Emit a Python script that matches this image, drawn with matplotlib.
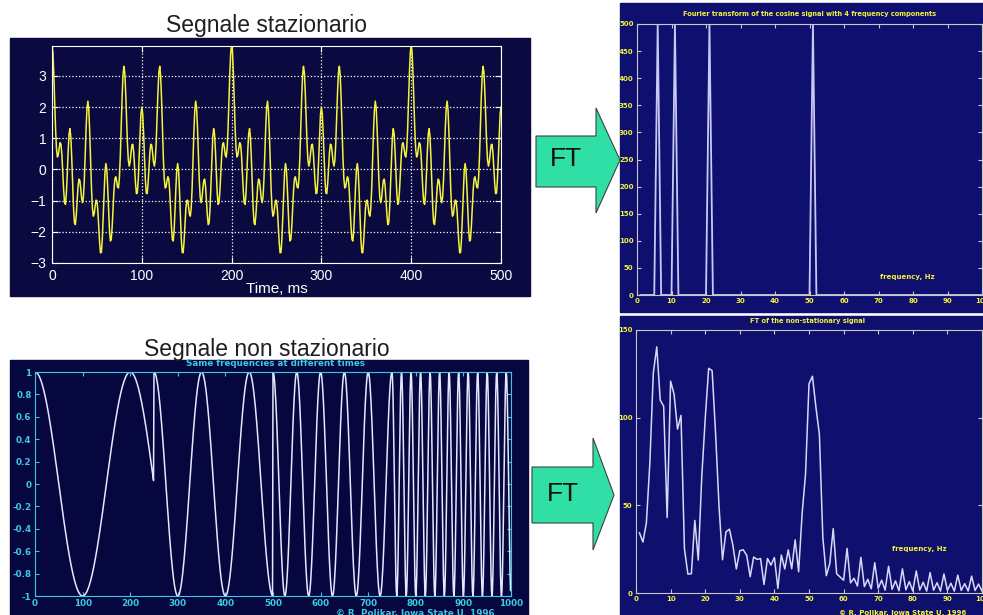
import numpy as np
import matplotlib.pyplot as plt
from matplotlib.patches import Rectangle, Polygon
from matplotlib.transforms import Bbox, TransformedBbox

W, H = 983, 615

# signal parameters
time_freqs = [10, 25, 50, 100]   # Hz, components of the stationary time signal
ft_freqs = [5, 10, 20, 50]       # Hz, components in both spectra / non-stationary signal
seg_len = 250                    # ms per component in the non-stationary signal
n_samples = 1000                 # 1 s at 1 kHz
fs = 1000

t = np.arange(n_samples)
stat = sum(np.cos(2 * np.pi * f * t / fs) for f in time_freqs)
stat_ft = sum(np.cos(2 * np.pi * f * t / fs) for f in ft_freqs)
nonstat = np.concatenate([np.cos(2 * np.pi * f * np.arange(seg_len) / fs) for f in ft_freqs])
spec_stat = np.abs(np.fft.fft(stat_ft))
spec_non = np.abs(np.fft.fft(nonstat))
k = np.arange(1, n_samples + 1)   # matlab style index

tl_xticks = [0, 100, 200, 300, 400, 500]
tl_yticks = [-3, -2, -1, 0, 1, 2, 3]
tr_yticks = list(range(0, 501, 50))
f_ticks = list(range(0, 101, 10))
bl_xticks = list(range(0, 1001, 100))
bl_yticks = [-1, -0.8, -0.6, -0.4, -0.2, 0, 0.2, 0.4, 0.6, 0.8, 1]
bl_ylabels = ['-1', '-0.8', '-0.6', '-0.4', '-0.2', '0', '0.2', '0.4', '0.6', '0.8', '1']
br_yticks = [0, 50, 100, 150]

YEL = '#f4f43a'
CYAN = '#3cc8e0'


def frac(x0, y0, x1, y1):
    return [x0 / W, 1 - y1 / H, (x1 - x0) / W, (y1 - y0) / H]


def clipbox(x0, y0, x1, y1):
    return TransformedBbox(Bbox.from_extents(x0 / W, 1 - y1 / H, x1 / W, 1 - y0 / H), fig.transFigure)


fig = plt.figure(figsize=(W / 100, H / 100), dpi=100, facecolor='white')
bg = fig.add_axes([0, 0, 1, 1])
bg.set_xlim(0, W)
bg.set_ylim(H, 0)
bg.axis('off')

# panel backgrounds
bg.add_patch(Rectangle((10, 38), 520, 258, color='#0a0a40'))
bg.add_patch(Rectangle((620, 3), 363, 309, color='#0f0f70'))
bg.add_patch(Rectangle((10, 360), 518, 255, color='#070740'))
bg.add_patch(Rectangle((620, 316), 363, 299, color='#0f0f6e'))

# arrows
for (bx0, by0, bx1, by1, hy0, hy1, tip, ty, lx, ly) in [
        (536, 136, 596, 187, 108, 213, 620, 160, 566, 159),
        (532, 467, 593, 523, 438, 550, 614, 495, 563, 494)]:
    pts = [(bx0, by0), (bx1, by0), (bx1, hy0), (tip, ty), (bx1, hy1), (bx1, by1), (bx0, by1)]
    bg.add_patch(Polygon(pts, closed=True, facecolor='#2fdfa6', edgecolor='#404040', lw=0.8))
    bg.text(lx, ly, 'FT', ha='center', va='center', fontsize=19, family='Liberation Sans', color='#111111')

# titles
bg.text(267, 32, 'Segnale stazionario', ha='center', va='baseline', fontsize=16.5,
        family='Liberation Sans', color='#1e1e1e')
bg.text(267, 356, 'Segnale non stazionario', ha='center', va='baseline', fontsize=16.5,
        family='Liberation Sans', color='#1e1e1e')
bg.text(277, 289, 'Time, ms', ha='center', va='center', fontsize=11,
        family='Liberation Sans', color='white')
bg.text(810, 14, 'Fourier transform of the cosine signal with 4 frequency components',
        ha='center', va='center', fontsize=4.8, fontweight='bold', color=YEL)
bg.text(807, 321, 'FT of the non-stationary signal', ha='center', va='center',
        fontsize=4.8, fontweight='bold', color=YEL)
bg.text(275, 364, 'Same frequencies at different times', ha='center', va='center',
        fontsize=6.3, fontweight='bold', color=CYAN)
bg.text(415, 609, '\u00a9 R. Polikar, Iowa State U. 1996', ha='center', va='top',
        fontsize=6.3, fontweight='bold', color=CYAN)
bg.text(903, 610, '\u00a9 R. Polikar, Iowa State U. 1996', ha='center', va='top',
        fontsize=5, fontweight='bold', color=YEL)

# top left: stationary signal
ax = fig.add_axes(frac(52, 46, 501, 263))
ax.set_facecolor('none')
ax.plot(t[:501], stat[:501], color=YEL, lw=1.1)
ax.set_xlim(0, 500)
ax.set_ylim(-3, 3.96)
ax.set_xticks(tl_xticks)
ax.set_yticks(tl_yticks)
ax.grid(True, color='white', linestyle=':', linewidth=0.9)
for s in ax.spines.values():
    s.set_color('white')
ax.tick_params(direction='in', colors='white', labelsize=10, length=4,
               top=True, right=True, pad=4)
for lab in ax.get_xticklabels() + ax.get_yticklabels():
    lab.set_family('Liberation Sans')

# top right: spectrum of stationary signal
ax = fig.add_axes(frac(637, 24, 982, 295))
ax.set_facecolor('none')
ax.plot(k, spec_stat, color='#c8c8f4', lw=1.3)
ax.set_xlim(0, 100)
ax.set_ylim(0, 500)
ax.set_xticks(f_ticks)
ax.set_yticks(tr_yticks)
for s in ax.spines.values():
    s.set_color('#c8c8c8')
ax.tick_params(direction='in', color='#c8c8c8', labelcolor=YEL, labelsize=5,
               length=3, top=True, right=True, pad=2.5)
for lab in ax.get_xticklabels() + ax.get_yticklabels():
    lab.set_fontweight('bold')
    lab.set_clip_box(clipbox(620, 3, 983, 312))
    lab.set_clip_on(True)
ax.text(70.5, 33, 'frequency, Hz', fontsize=5, fontweight='bold', color=YEL, va='center')

# bottom left: non-stationary signal
ax = fig.add_axes(frac(35, 372, 511, 596))
ax.set_facecolor('none')
ax.plot(t, nonstat, color='#e6e6ff', lw=1.1)
ax.set_xlim(0, 1000)
ax.set_ylim(-1, 1)
ax.set_xticks(bl_xticks)
ax.set_yticks(bl_yticks)
ax.set_yticklabels(bl_ylabels)
for s in ax.spines.values():
    s.set_color(CYAN)
ax.tick_params(direction='in', colors=CYAN, labelsize=6.3, length=3,
               top=True, right=True, pad=2.5)
for lab in ax.get_xticklabels() + ax.get_yticklabels():
    lab.set_fontweight('bold')
    lab.set_clip_box(clipbox(10, 360, 528, 615))
    lab.set_clip_on(True)

# bottom right: spectrum of non-stationary signal
ax = fig.add_axes(frac(636, 330, 982, 593))
ax.set_facecolor('none')
ax.plot(k, spec_non, color='#d8d8f8', lw=1.1)
ax.set_xlim(0, 100)
ax.set_ylim(0, 150)
ax.set_xticks(f_ticks)
ax.set_yticks(br_yticks)
for s in ax.spines.values():
    s.set_color('#c8c8c8')
ax.tick_params(direction='in', color='#c8c8c8', labelcolor=YEL, labelsize=5,
               length=3, top=True, right=True, pad=2.5)
for lab in ax.get_xticklabels() + ax.get_yticklabels():
    lab.set_fontweight('bold')
    lab.set_clip_box(clipbox(620, 316, 983, 615))
    lab.set_clip_on(True)
ax.text(74, 25, 'frequency, Hz', fontsize=5, fontweight='bold', color=YEL, va='center')

fig.savefig('out.png', dpi=100, facecolor='white')
